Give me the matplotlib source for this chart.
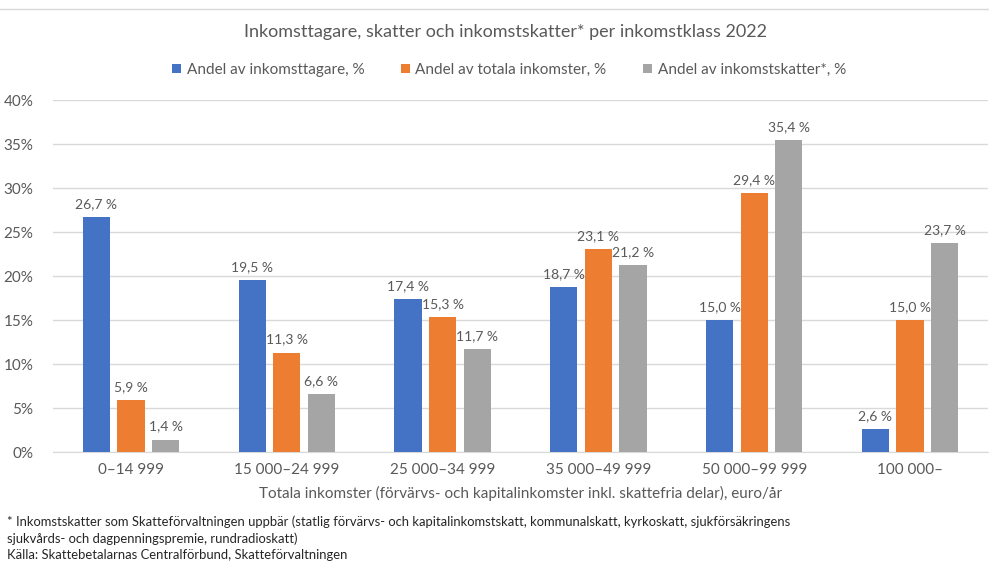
import matplotlib.pyplot as plt
import numpy as np

plt.rcParams['font.family'] = ['Lato', 'DejaVu Sans']

categories = ["0–14 999", "15 000–24 999", "25 000–34 999", "35 000–49 999", "50 000–99 999", "100 000–"]
series_names = ["Andel av inkomsttagare, %", "Andel av totala inkomster, %", "Andel av inkomstskatter*, %"]
tagare = [26.7, 19.5, 17.4, 18.7, 15.0, 2.6]
inkomster = [5.9, 11.3, 15.3, 23.1, 29.4, 15.0]
skatter = [1.4, 6.6, 11.7, 21.2, 35.4, 23.7]
yticks = [0, 5, 10, 15, 20, 25, 30, 35, 40]

colors = ["#4472C4", "#ED7D31", "#A5A5A5"]
txt = "#595959"

fig = plt.figure(figsize=(9.89, 5.66), dpi=100)
ax = fig.add_axes([53/989, 1-452/566, 935/989, 352/566])

x = np.arange(len(categories))
w = 0.175
step = 0.222
for i, (vals, name) in enumerate(zip([tagare, inkomster, skatter], series_names)):
    pos = x + (i-1)*step
    bars = ax.bar(pos, vals, width=w, color=colors[i], label=name, zorder=3)
    for p, v in zip(pos, vals):
        ax.text(p, v + 0.8, ("%.1f %%" % v).replace(".", ","), ha="center", va="bottom",
                fontsize=10, color=txt)

ax.set_xlim(-0.5, len(categories)-0.5)
ax.set_ylim(0, 40)
ax.set_yticks(yticks)
ax.set_yticklabels(["%d%%" % t for t in yticks], fontsize=11, color=txt)
ax.set_xticks(x)
ax.set_xticklabels(categories, fontsize=11, color=txt)
ax.tick_params(axis="both", length=0)
ax.tick_params(axis="y", pad=14)
ax.tick_params(axis="x", pad=8)
ax.grid(axis="y", color="#D9D9D9", linewidth=1, zorder=0)
for s in ["top", "right", "left"]:
    ax.spines[s].set_visible(False)
ax.spines["bottom"].set_color("#D9D9D9")

ax.set_xlabel("Totala inkomster (förvärvs- och kapitalinkomster inkl. skattefria delar), euro/år",
              fontsize=11, color=txt, labelpad=6)

fig.text(506/989, 1-32/566, "Inkomsttagare, skatter och inkomstskatter* per inkomstklass 2022",
         ha="center", va="center", fontsize=13, color=txt)
leg = fig.legend(loc="center", bbox_to_anchor=(509/989, 1-70/566), ncol=3, frameon=False,
                 fontsize=11, handlelength=0.6, handleheight=0.6, handletextpad=0.35,
                 columnspacing=2.4)
for t in leg.get_texts():
    t.set_color(txt)

fig.add_artist(plt.Line2D([0, 1], [1-9/566, 1-9/566], color="#D9D9D9", linewidth=1))

foot = ("* Inkomstskatter som Skatteförvaltningen uppbär (statlig förvärvs- och kapitalinkomstskatt, kommunalskatt, kyrkoskatt, sjukförsäkringens\n"
        "sjukvårds- och dagpenningspremie, rundradioskatt)\n"
        "Källa: Skattebetalarnas Centralförbund, Skatteförvaltningen")
fig.text(7/989, 1-515/566, foot, ha="left", va="top", fontsize=9.4, color="#262626", linespacing=1.45)

fig.savefig("out.png", dpi=100)
